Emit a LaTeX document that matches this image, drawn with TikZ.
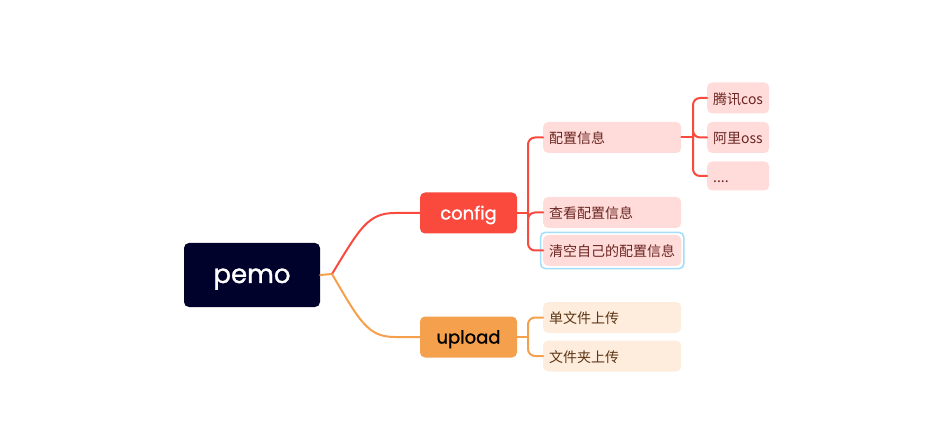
\documentclass[tikz,border=0pt]{standalone}
\usepackage{fontspec}
\setmainfont{Noto Sans CJK SC}
\newfontfamily\topicfont{Poppins}[FakeBold=1.2]
\usetikzlibrary{fit}

\definecolor{rootblue}{HTML}{00022B}
\definecolor{cfgred}{HTML}{FA4A3E}
\definecolor{uplorange}{HTML}{F5A04C}
\definecolor{cfgleaf}{HTML}{FFDCDA}
\definecolor{uplleaf}{HTML}{FEECDD}
\definecolor{cfgtext}{HTML}{6A2420}
\definecolor{upltext}{HTML}{5C3514}
\definecolor{selblue}{HTML}{A3DDFB}

\tikzset{
    root/.style = { fill=rootblue, text=white, rounded corners=5pt, minimum width=136pt, minimum height=64pt, inner sep=0pt, text height=16pt, text depth=0pt, font=\topicfont\fontsize{26}{30}\selectfont },
    topic/.style = { rounded corners=5pt, minimum width=97pt, minimum height=41pt, inner sep=0pt, text height=13pt, text depth=0pt, font=\topicfont\fontsize{18}{21}\selectfont },
    leaf/.style = { rounded corners=5pt, anchor=west, minimum height=31pt, inner xsep=6pt, inner ysep=0pt, text height=12.5pt, text depth=0pt, align=left, font=\fontsize{14}{16}\selectfont },
    redleaf/.style = { leaf, fill=cfgleaf, text=cfgtext, text width=126pt },
    subleaf/.style = { leaf, fill=cfgleaf, text=cfgtext, text width=50pt },
    orleaf/.style = { leaf, fill=uplleaf, text=upltext, text width=126pt },
    branch/.style = { line width=2pt, line cap=round },
    sel/.style = { draw=selblue, line width=1.5pt, rounded corners=5pt, inner sep=2.5pt }
}

\begin{document}
\begin{tikzpicture}[ x=1pt, y=-1pt ]
    \useasboundingbox ( 0, 0 ) rectangle ( 939, 438 );

    % центр
    \node [ root ] (pemo) at ( 252, 275 ) {pemo};
    \coordinate (hub) at ( 332, 274 );

    % ветки
    \node [ topic, fill=cfgred, text=white ] (config) at ( 468.5, 213 ) {config};
    \node [ topic, fill=uplorange, text=black ] (upload) at ( 468.5, 337 ) {upload};

    \draw [ branch, uplorange ] (pemo.east) -- (hub);
    \draw [ branch, cfgred ] (hub) .. controls ( 360, 228 ) and ( 368, 213 ) .. ( 395, 213 ) -- (config.west);
    \draw [ branch, uplorange ] (hub) .. controls ( 360, 322 ) and ( 368, 337 ) .. ( 395, 337 ) -- (upload.west);

    % config
    \node [ redleaf ] (info) at ( 543, 137.5 ) {配置信息};
    \node [ redleaf ] (view) at ( 543, 212.5 ) {查看配置信息};
    \node [ redleaf ] (clear) at ( 543, 250.5 ) {清空自己的配置信息};
    \node [ sel, fit=(clear) ] (clearsel) {};

    \coordinate (cfgbar) at ( 528, 213 );
    \draw [ branch, cfgred ] (config.east) -- (cfgbar);
    \foreach \n in {info,view,clear}
        \draw [ branch, cfgred, rounded corners=7pt ] (cfgbar) |- (\n.west);

    % хранилища
    \node [ subleaf ] (cos) at ( 707, 98 ) {腾讯cos};
    \node [ subleaf ] (oss) at ( 707, 137.5 ) {阿里oss};
    \node [ subleaf, minimum height=29pt ] (more) at ( 707, 176 ) {....};

    \coordinate (infobar) at ( 693, 137.5 );
    \draw [ branch, cfgred ] (info.east) -- (infobar);
    \foreach \n in {cos,oss,more}
        \draw [ branch, cfgred, rounded corners=7pt ] (infobar) |- (\n.west);

    % upload
    \node [ orleaf ] (single) at ( 543, 317.5 ) {单文件上传};
    \node [ orleaf ] (folder) at ( 543, 356 ) {文件夹上传};

    \coordinate (uplbar) at ( 528, 337 );
    \draw [ branch, uplorange ] (upload.east) -- (uplbar);
    \foreach \n in {single,folder}
        \draw [ branch, uplorange, rounded corners=7pt ] (uplbar) |- (\n.west);
\end{tikzpicture}
\end{document}
